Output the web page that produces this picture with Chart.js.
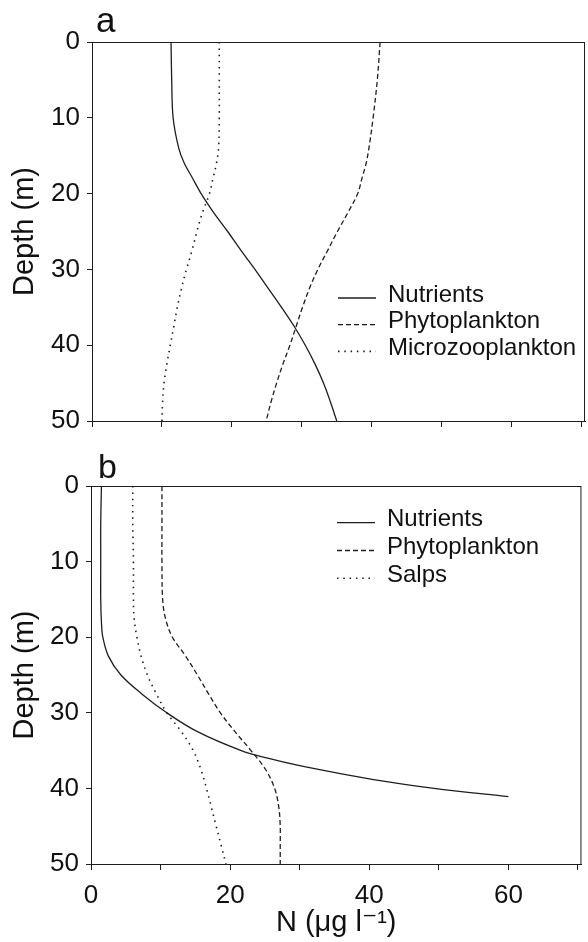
<!DOCTYPE html>
<html>
<head>
<meta charset="utf-8">
<script src="https://cdn.jsdelivr.net/npm/chart.js@4/dist/chart.umd.min.js"></script>
<style>
body{margin:0;background:#fff}
canvas{display:block}
</style>
</head>
<body>
<canvas id="chart-a" width="588" height="445"></canvas>
<canvas id="chart-b" width="588" height="497"></canvas>
<script>
// depth profiles, panel a
var DEPTH_A=[0,5,10,14,16,18,20,22.5,25,27.5,30,32.5,35,37.5,40,42.5,45,47.5,50];
var NUTRIENTS_A=[11.3,11.4,11.6,12.4,13.2,14.4,15.6,17.4,19.4,21.3,23.3,25.2,27.1,28.9,30.5,31.9,33.1,34.1,35.0];
var PHYTO_A=[41.2,40.8,40.2,39.6,39.2,38.6,38.0,36.6,35.1,33.7,32.3,31.1,30.1,29.2,28.3,27.3,26.4,25.6,24.9];
var MICRO_A=[18.2,18.2,18.2,18.1,17.8,17.3,16.8,15.8,15.0,14.3,13.5,12.8,12.2,11.7,11.2,10.7,10.3,10.1,10.0];

// depth profiles, panel b
var NUT_DEPTH_B=[0,5,10,15,18,20,22.5,25,27.5,30,32.5,35,36,37,38,39,40,41.1];
var NUTRIENTS_B=[1.5,1.4,1.4,1.4,1.5,1.7,2.5,4.3,7.3,10.9,15.3,21.6,25.4,30.0,35.6,41.8,49.3,60];
var DEPTH_B=[0,5,10,15,17.5,20,22.5,25,27.5,30,32.5,35,37.5,40,42.5,45,47.5,50];
var PHYTO_B=[10.2,10.2,10.2,10.3,10.7,11.7,13.6,15.3,16.9,18.6,20.7,23.0,25.1,26.4,27.0,27.2,27.2,27.2];
var SALPS_B=[6.0,6.0,6.1,6.1,6.2,6.6,7.2,8.1,9.4,10.9,13.0,14.7,15.8,16.6,17.3,18.0,18.7,19.4];

var X_LABELS_B=[0,20,40,60];

var FONT='"Liberation Sans", Arial, "DejaVu Sans", sans-serif';
var INK='#1e1e1e';
var SOLID=[], DASHED=[5,3], DOTTED=[1.5,4.8];

function toXY(xs,ds){
    return xs.map(function(v,i){ return {x:v,y:ds[i]}; });
}

function line(label,xs,ds,dash){
    return {
        label:label,
        data:toXY(xs,ds),
        showLine:true,
        borderColor:INK,
        borderWidth:dash===DOTTED?1.6:1.3,
        borderDash:dash,
        pointRadius:0,
        tension:0.35,
        fill:false
    };
}

// frame, panel letter and the in-plot legend
var extras={
    id:'extras',
    afterDraw:function(chart,args,o){
        var ctx=chart.ctx, a=chart.chartArea;
        ctx.save();
        ctx.strokeStyle=INK;
        ctx.lineWidth=1;
        ctx.strokeRect(a.left+0.5,a.top+0.5,a.right-a.left-1,a.bottom-a.top);
        ctx.fillStyle='#111';
        ctx.font=o.letterSize+'px '+FONT;
        ctx.textBaseline='alphabetic';
        ctx.fillText(o.letter,o.letterX,o.letterY);
        ctx.font='24px '+FONT;
        ctx.textBaseline='middle';
        chart.data.datasets.forEach(function(ds,i){
            var y=o.legendY+i*o.rowH;
            ctx.setLineDash(ds.borderDash);
            ctx.lineWidth=ds.borderWidth;
            ctx.strokeStyle=ds.borderColor;
            ctx.beginPath();
            ctx.moveTo(o.legendX,y);
            ctx.lineTo(o.legendX+38,y);
            ctx.stroke();
            ctx.setLineDash([]);
            ctx.fillText(ds.label,o.legendX+50,y-3);
        });
        ctx.restore();
    }
};

function options(cfg){
    return {
        responsive:false,
        devicePixelRatio:1,
        animation:false,
        layout:{padding:{left:0,top:cfg.top,right:cfg.right,bottom:0}},
        plugins:{
            legend:{display:false},
            tooltip:{enabled:false},
            extras:cfg.extras
        },
        scales:{
            x:{
                type:'linear',
                min:0,
                max:70.5,
                afterFit:function(s){ s.height=cfg.xHeight; },
                grid:{drawOnChartArea:false,tickLength:6,color:INK},
                border:{color:INK},
                ticks:{
                    stepSize:10,
                    includeBounds:false,
                    maxRotation:0,
                    autoSkip:false,
                    padding:cfg.xPad,
                    color:'#111',
                    font:{family:FONT,size:26},
                    callback:cfg.xLabel
                },
                title:{
                    display:cfg.xTitle,
                    text:'N (\u03bcg l\u207b\u00b9)',
                    color:'#111',
                    font:{family:FONT,size:29},
                    padding:{top:0,bottom:2}
                }
            },
            y:{
                type:'linear',
                reverse:true,
                min:0,
                max:50,
                afterFit:function(s){ s.width=cfg.yWidth; },
                grid:{drawOnChartArea:false,tickLength:5,color:INK},
                border:{color:INK},
                ticks:{
                    stepSize:10,
                    padding:7,
                    color:'#111',
                    font:{family:FONT,size:26}
                },
                title:{
                    display:true,
                    text:'Depth (m)',
                    color:'#111',
                    font:{family:FONT,size:29},
                    padding:{top:8,bottom:0}
                }
            }
        }
    };
}

new Chart(document.getElementById('chart-a'),{
    type:'scatter',
    data:{datasets:[
        line('Nutrients',NUTRIENTS_A,DEPTH_A,SOLID),
        line('Phytoplankton',PHYTO_A,DEPTH_A,DASHED),
        line('Microzooplankton',MICRO_A,DEPTH_A,DOTTED)
    ]},
    options:options({
        top:42, right:3, yWidth:92, xHeight:24, xPad:4, xTitle:false,
        xLabel:function(){ return ''; },
        extras:{letter:'a',letterSize:35,letterX:96,letterY:32,legendX:338,legendY:298,rowH:26.7}
    }),
    plugins:[extras]
});

new Chart(document.getElementById('chart-b'),{
    type:'scatter',
    data:{datasets:[
        line('Nutrients',NUTRIENTS_B,NUT_DEPTH_B,SOLID),
        line('Phytoplankton',PHYTO_B,DEPTH_B,DASHED),
        line('Salps',SALPS_B,DEPTH_B,DOTTED)
    ]},
    options:options({
        top:41, right:6, yWidth:91, xHeight:78, xPad:10, xTitle:true,
        xLabel:function(v){ return X_LABELS_B.indexOf(v)>=0 ? String(v) : ''; },
        extras:{letter:'b',letterSize:34,letterX:98,letterY:33,legendX:337,legendY:77.7,rowH:27.8}
    }),
    plugins:[extras]
});
</script>
</body>
</html>
